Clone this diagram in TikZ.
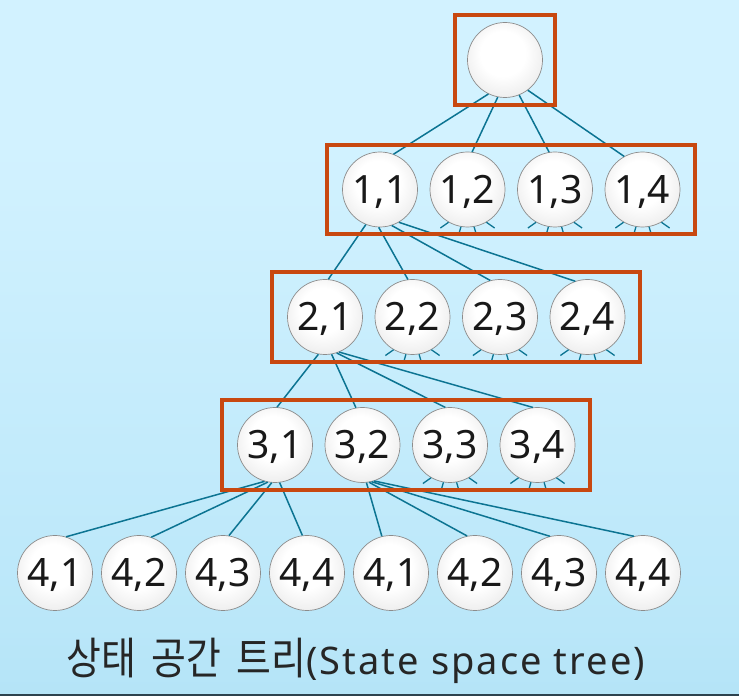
\documentclass[tikz,border=0pt]{standalone}
\usepackage{fontspec}
\setmainfont{Noto Sans}
\newfontfamily\cjk[FakeStretch=0.86,WordSpace=1.8]{Noto Sans CJK KR}
\newfontfamily\capsans[LetterSpace=5.5]{Noto Sans}
\usetikzlibrary{positioning,fit,backgrounds}
\definecolor{skytop}{RGB}{210,242,255}
\definecolor{skymid}{RGB}{186,231,249}
\definecolor{skybot}{RGB}{152,212,238}
\definecolor{barslate}{RGB}{45,66,78}
\definecolor{boxred}{RGB}{200,72,16}
\definecolor{linkteal}{RGB}{12,116,146}
\pgfdeclareverticalshading{skyfade}{100bp}{color(0bp)=(skybot); color(30bp)=(skymid);
 color(65bp)=(skytop); color(100bp)=(skytop)}
\pgfdeclareradialshading{pearl}{\pgfpoint{-2bp}{6bp}}{color(0bp)=(white); color(15bp)=(white);
 color(36bp)=(black!11); color(50bp)=(black!32)}
\tikzstyle{ball}=[circle, draw=black!45, line width=0.7pt, minimum size=75pt, inner sep=0pt,
                  shade, shading=pearl, font=\fontsize{39}{39}\selectfont, text=black!90,
                  text height=28pt, text depth=0pt]
\tikzstyle{rbox}=[rectangle, draw=boxred, line width=4pt, inner xsep=15pt, inner ysep=7pt]
\tikzstyle{pline}=[-, draw=linkteal, line width=1.5pt]
\tikzstyle{sline}=[-, draw=linkteal, line width=1.3pt]

\begin{document}
\begin{tikzpicture}[x=1pt, y=1pt]
\useasboundingbox (0,0) rectangle (739,696);
\shade[shading=skyfade] (0,0) rectangle (739,696);
\fill[barslate] (0,0) rectangle (739,2);

\node (ROOT) [ball] at (505,636) {};

\node (N11) [ball] at (380,506.5) {1,1};
\node (N12) [ball,right=11.8pt of N11] {1,2};
\node (N13) [ball,right=11.8pt of N12] {1,3};
\node (N14) [ball,right=11.8pt of N13] {1,4};
 \draw[pline] (ROOT.-116) -- (N11.69);
 \draw[pline] (ROOT.-101) -- (N12.83);
 \draw[pline] (ROOT.-68) -- (N13.99);
 \draw[pline] (ROOT.-53) -- (N14.119);

\node (N21) [ball] at (325,379) {2,1};
\node (N22) [ball,right=11.8pt of N21] {2,2};
\node (N23) [ball,right=11.8pt of N22] {2,3};
\node (N24) [ball,right=11.8pt of N23] {2,4};
 \draw[pline] (N11.-112) -- (N21.85);
 \draw[pline] (N11.-92) -- (N22.97);
 \draw[pline] (N11.-72) -- (N23.105);
 \draw[pline] (N11.-60) -- (N24.109);

\node (N31) [ball] at (275,251) {3,1};
\node (N32) [ball,right=11.8pt of N31] {3,2};
\node (N33) [ball,right=11.8pt of N32] {3,3};
\node (N34) [ball,right=11.8pt of N33] {3,4};
 \draw[pline] (N21.-100) -- (N31.87);
 \draw[pline] (N21.-80) -- (N32.100);
 \draw[pline] (N21.-72) -- (N33.97);
 \draw[pline] (N21.-68) -- (N34.97);

\node (N41) [ball] at (55,123) {4,1};
\node (N42) [ball,right=8.3pt of N41] {4,2};
\node (N43) [ball,right=8.3pt of N42] {4,3};
\node (N44) [ball,right=8.3pt of N43] {4,4};
 \draw[pline] (N31.-106) -- (N41.73);
 \draw[pline] (N31.-101) -- (N42.71);
 \draw[pline] (N31.-95) -- (N43.81);
 \draw[pline] (N31.-83) -- (N44.97);
\node (N45) [ball,right=8.3pt of N44] {4,1};
\node (N46) [ball,right=8.3pt of N45] {4,2};
\node (N47) [ball,right=8.3pt of N46] {4,3};
\node (N48) [ball,right=8.3pt of N47] {4,4};
 \draw[pline] (N32.-84) -- (N45.104);
 \draw[pline] (N32.-80) -- (N46.102);
 \draw[pline] (N32.-76) -- (N47.104);
 \draw[pline] (N32.-72) -- (N48.104);

 \draw[sline] (N12.-120) -- ++(-145:10) (N12.-100) -- ++(-106:9) (N12.-80) -- ++(-74:9) (N12.-60) -- ++(-35:10);
 \draw[sline] (N13.-120) -- ++(-145:10) (N13.-100) -- ++(-106:9) (N13.-80) -- ++(-74:9) (N13.-60) -- ++(-35:10);
 \draw[sline] (N14.-120) -- ++(-145:10) (N14.-100) -- ++(-106:9) (N14.-80) -- ++(-74:9) (N14.-60) -- ++(-35:10);
 \draw[sline] (N22.-120) -- ++(-145:10) (N22.-100) -- ++(-106:9) (N22.-80) -- ++(-74:9) (N22.-60) -- ++(-35:10);
 \draw[sline] (N23.-120) -- ++(-145:10) (N23.-100) -- ++(-106:9) (N23.-80) -- ++(-74:9) (N23.-60) -- ++(-35:10);
 \draw[sline] (N24.-120) -- ++(-145:10) (N24.-100) -- ++(-106:9) (N24.-80) -- ++(-74:9) (N24.-60) -- ++(-35:10);
 \draw[sline] (N33.-120) -- ++(-145:10) (N33.-100) -- ++(-106:9) (N33.-80) -- ++(-74:9) (N33.-60) -- ++(-35:10);
 \draw[sline] (N34.-120) -- ++(-145:10) (N34.-100) -- ++(-106:9) (N34.-80) -- ++(-74:9) (N34.-60) -- ++(-35:10);

\node (ROOTBOX) [rbox, inner xsep=12pt, fit=(ROOT)] {};
\node (ROW1BOX) [rbox, fit=(N11)(N14)] {};
\node (ROW2BOX) [rbox, fit=(N21)(N24)] {};
\node (ROW3BOX) [rbox, fit=(N31)(N34)] {};

\node (CAPTION) [anchor=base, inner sep=0pt, text=black!85] at (356,21)
 {{\cjk\fontsize{44}{44}\selectfont 상태 공간 트리}{\capsans\fontsize{38}{38}\selectfont(State space tree)}};

\end{tikzpicture}
\end{document}
